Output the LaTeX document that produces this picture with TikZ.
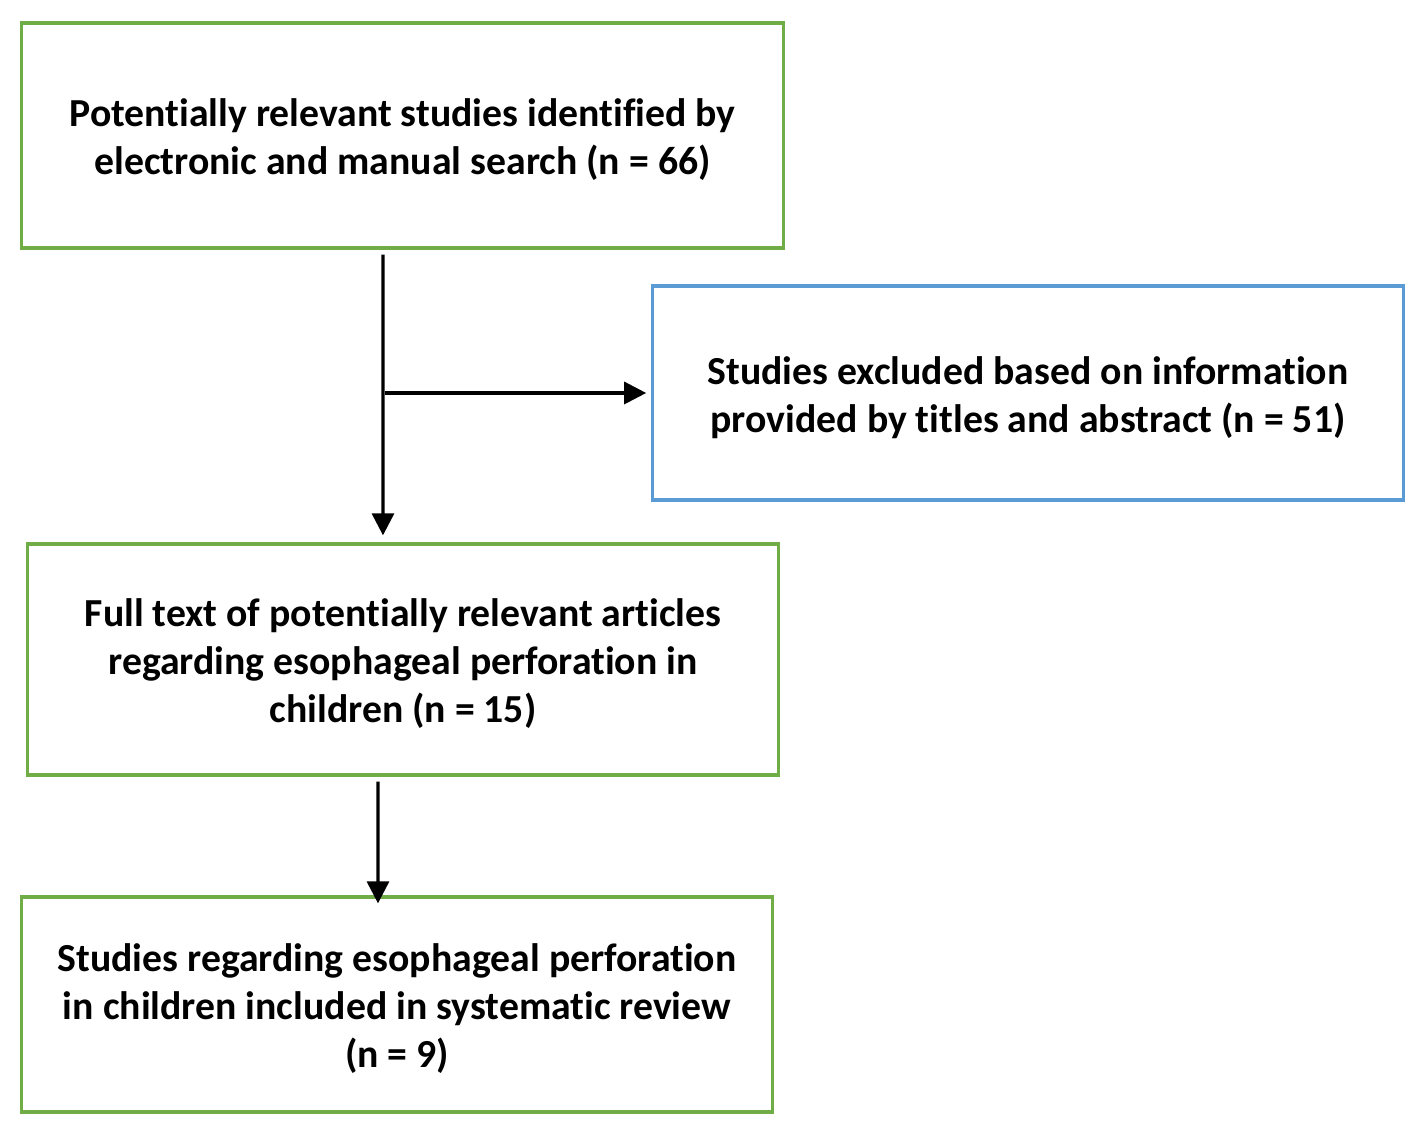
\documentclass[tikz,border=0pt]{standalone}
\usepackage{fontspec}
\setmainfont{Carlito}[RawFeature={-liga;-clig;-calt}]
\usetikzlibrary{arrows.meta}
\definecolor{boxgreen}{RGB}{112,173,71}
\definecolor{boxblue}{RGB}{91,155,213}
\newcommand{\topgap}{\rule{0pt}{0.92em}}
\tikzset{
  stagebox/.style={draw=boxgreen, line width=0.9pt, align=center,
    font=\fontsize{11.3}{13.6}\selectfont\bfseries, inner sep=0pt},
  exclbox/.style={stagebox, draw=boxblue},
  flow/.style={line width=0.9pt, -{Triangle[length=0.22cm, width=0.22cm]}}
}
\begin{document}
\begin{tikzpicture}[x=0.01cm, y=-0.01cm]
          \useasboundingbox (0,0) rectangle (1417,1134);
          \node[stagebox, minimum width=7.61cm, minimum height=2.25cm] (ident) at (402.5,135.5)
            {\topgap Potentially relevant studies identified by\\electronic and manual search (n = 66)};
          \node[exclbox, minimum width=7.50cm, minimum height=2.14cm] (excl) at (1028,393)
            {\topgap Studies excluded based on information\\provided by titles and abstract (n = 51)};
          \node[stagebox, minimum width=7.50cm, minimum height=2.31cm] (full) at (403,659.5)
            {\topgap Full text of potentially relevant articles\\regarding esophageal perforation in\\children (n = 15)};
          \node[stagebox, minimum width=7.50cm, minimum height=2.15cm] (incl) at (397,1004.5)
            {\topgap Studies regarding esophageal perforation\\in children included in systematic review\\(n = 9)};
          \coordinate (split) at (385,393);

          \draw[flow] ([xshift=-0.195cm, yshift=-0.05cm]ident.south) -- ([xshift=-0.2cm, yshift=0.07cm]full.north);
          \draw[flow] (split) -- ([xshift=-0.05cm]excl.west);
          \draw[flow] ([xshift=-0.25cm, yshift=-0.05cm]full.south) -- ([xshift=-0.19cm, yshift=-0.08cm]incl.north);
      \end{tikzpicture}
\end{document}
